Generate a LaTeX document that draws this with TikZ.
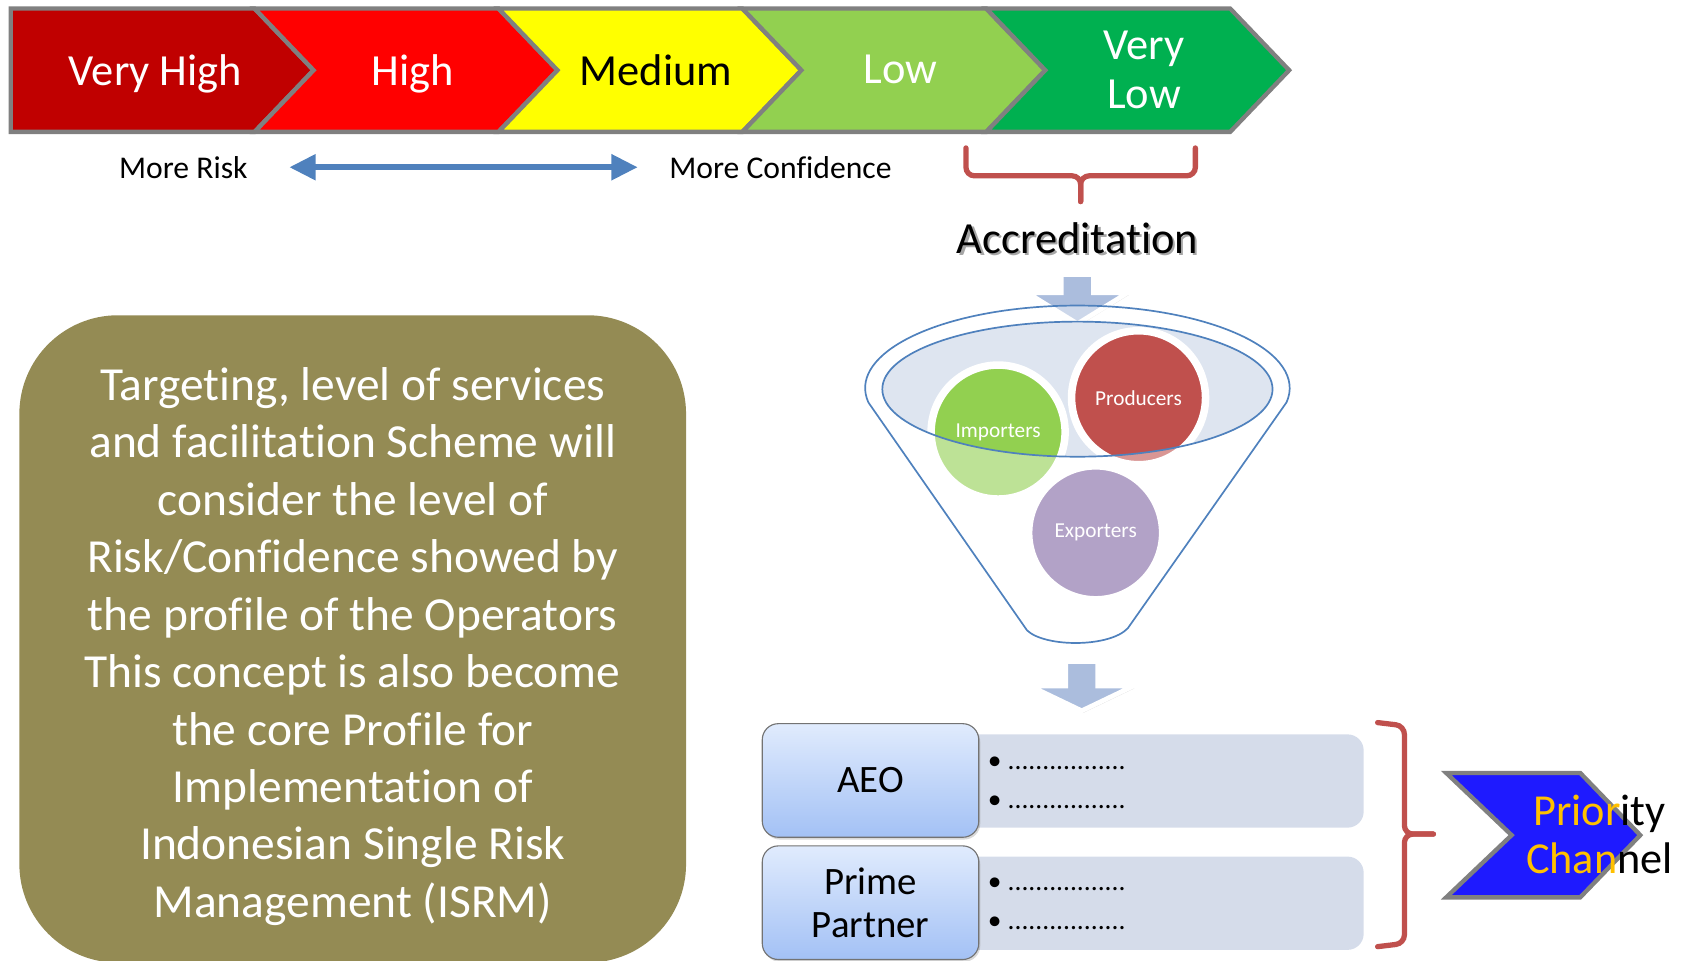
\documentclass[tikz,border=0pt]{standalone}
\usepackage{fontspec}
\setmainfont{Carlito}[RawFeature=-liga,RawFeature=-dlig,RawFeature=-calt,RawFeature=-clig]
\usetikzlibrary{arrows.meta,shadows,positioning}
\definecolor{vhigh}{RGB}{192,0,0}
\definecolor{high}{RGB}{255,0,0}
\definecolor{medium}{RGB}{255,255,0}
\definecolor{low}{RGB}{146,208,80}
\definecolor{vlow}{RGB}{0,176,80}
\definecolor{chevgray}{RGB}{128,128,128}
\definecolor{accblue}{RGB}{79,129,189}
\definecolor{accred}{RGB}{192,80,77}
\definecolor{olive}{RGB}{148,139,84}
\definecolor{impgreen}{RGB}{146,208,80}
\definecolor{prodred}{RGB}{192,80,77}
\definecolor{exppurple}{RGB}{128,100,162}
\definecolor{funnelfill}{RGB}{222,229,240}
\definecolor{flowblue}{RGB}{171,189,221}
\definecolor{listfill}{RGB}{213,220,234}
\definecolor{boxtop}{RGB}{224,235,253}
\definecolor{boxbot}{RGB}{163,193,245}
\definecolor{prioblue}{RGB}{30,26,255}
\definecolor{prioorange}{RGB}{255,192,0}

\begin{document}
\begin{tikzpicture}[x=0.02cm,y=-0.02cm,
		chev/.style={draw=chevgray,line width=2.3pt},
		chevlabel/.style={inner sep=0pt,align=center,text depth=0pt,font=\fontsize{23.6}{26}\selectfont},
		sidenote/.style={inner sep=0pt,font=\fontsize{16.8}{20}\selectfont},
		bracket/.style={draw=accred,line width=2.8pt,rounded corners=0.16cm,line cap=round},
		flowarrow/.style={fill=flowblue,draw=white,line width=2.5pt,drop shadow={opacity=0.3,shadow xshift=0.6pt,shadow yshift=-1.2pt}},
		funnelshape/.style={insert path={(1005,362) ++(170:198 and 77) arc[start angle=170,end angle=370,x radius=198,y radius=77] -- (1052,586) .. controls (1035,604) and (975,604) .. (958,588) -- cycle}},
		bubble/.style={circle,draw=white,line width=4pt,minimum size=2.5cm,inner sep=0pt,text=white,font=\fontsize{11.3}{13}\selectfont,drop shadow={opacity=0.2,shadow xshift=0.8pt,shadow yshift=-1.2pt}},
		catbox/.style={rectangle,rounded corners=0.3cm,minimum width=4.04cm,minimum height=2.12cm,top color=boxtop,bottom color=boxbot,draw=black!55,line width=0.6pt,align=center,inner sep=0pt,font=\fontsize{20.6}{23.2}\selectfont,drop shadow={opacity=0.3,shadow xshift=0.8pt,shadow yshift=-1.2pt}},
		listbar/.style={fill=listfill,rounded corners=0.3cm},
		listtext/.style={inner sep=0pt,align=left,anchor=west,font=\fontsize{14.6}{20.4}\selectfont},
		notebox/.style={rectangle,rounded corners=1.84cm,fill=olive,minimum width=12.44cm,minimum height=12.08cm,inner sep=0pt},
		notetext/.style={inner sep=0pt,align=center,text=white,font=\fontsize{25.2}{30.5}\selectfont}]
		\useasboundingbox (0,0) rectangle (1568,896);
		% risk scale
		\foreach \i/\col/\txt/\lbl/\lx/\notch in {0/vhigh/white/Very High/145/0,1/high/white/High/385/55,2/medium/black/Medium/612/55,3/low/white/Low/840/55,4/vlow/white/{Very\\Low}/1067/55}{
			\pgfmathsetmacro\xo{10+227.5*\i}
			\draw[chev,fill=\col] (\xo,8) -- ++(227.5,0) -- ++(55,57.5) -- ++(-55,57.5) -- ++(-227.5,0) -- ++(\notch,-57.5) -- cycle;
			\node[chevlabel,text=\txt] (lvl\i) at (\lx,65) {\lbl};
		}
		\node[sidenote] (risk) at (171,156) {More Risk};
		\node[sidenote] (conf) at (728,156) {More Confidence};
		\draw[draw=accblue,line width=3.4pt,{Triangle[length=14pt,width=13pt]}-{Triangle[length=14pt,width=13pt]},shorten <=0.77cm,shorten >=0.58cm] (risk.east) -- (conf.west);
		% accreditation
		\draw[bracket] (901,138) -- (901,164) -- (1008,164) -- (1008,188);
		\draw[bracket] (1115,138) -- (1115,164) -- (1008,164) -- (1008,188);
		\node[chevlabel,text=black!35] (accrshadow) at (1007,224) {Accreditation};
		\node[chevlabel] (accr) at (1005,222) {Accreditation};
		\draw[flowarrow,shift={(1005,256)}] (-15,0) -- (15,0) -- (15,17) -- (47,17) -- (0,46) -- (-47,17) -- (-15,17) -- cycle;
		% funnel
		\fill[funnelfill] (1005,363) ellipse[x radius=182,y radius=63];
		\node[bubble,fill=impgreen] (imp) at (931,403) {Importers};
		\node[bubble,fill=prodred] (prod) at (1062,371) {Producers};
		\node[bubble,fill=exppurple] (exp) at (1022,497) {Exporters};
		\fill[white,fill opacity=0.4,even odd rule,funnelshape] (1005,363) ellipse[x radius=182,y radius=63];
		\draw[accblue,line width=0.9pt,funnelshape];
		\draw[accblue,line width=0.9pt] (1005,363) ellipse[x radius=182,y radius=63];
		\draw[flowarrow,shift={(1009,617)}] (-15,0) -- (15,0) -- (15,23) -- (48,23) -- (0,46) -- (-48,23) -- (-15,23) -- cycle;
		% operators
		\fill[listbar] (880,685) rectangle (1272,772);
		\fill[listbar] (880,799) rectangle (1272,886);
		\node[catbox] (aeo) at (812,728) {AEO};
		\node[catbox] (prime) at (812,842) {Prime\\Partner};
		\node[listtext] (aeolist) at (921,730) {\textbullet\ .................\\\textbullet\ .................};
		\node[listtext] (primelist) at (921,843) {\textbullet\ .................\\\textbullet\ .................};
		\draw[bracket] (1285,674) -- (1310,677) -- (1310,778) -- (1337,778);
		\draw[bracket] (1285,883) -- (1310,880) -- (1310,778) -- (1337,778);
		\draw[chev,fill=prioblue] (1349,721) -- (1474,721) -- (1530,779) -- (1474,837) -- (1349,837) -- (1410,779) -- cycle;
		\node[chevlabel,font=\fontsize{23.5}{25.5}\selectfont] (prio) at (1492,778) {{\color{prioorange}Prior}ity\\{\color{prioorange}Chan}nel};
		% note
		\node[notebox] (note) at (329,596) {};
		\node[notetext] (notetext) at (329,603) {Targeting, level of services\\and facilitation Scheme will\\consider the level of\\Risk/Confidence showed by\\the profile of the Operators\\This concept is also become\\the core Profile for\\Implementation of\\Indonesian Single Risk\\Management (ISRM)};
\end{tikzpicture}
\end{document}
